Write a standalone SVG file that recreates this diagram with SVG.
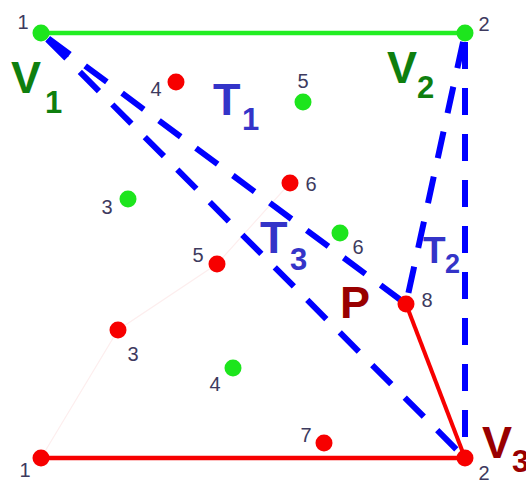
<svg xmlns="http://www.w3.org/2000/svg" width="526" height="481" viewBox="0 0 526 481">
<style>
.num{font-family:"Liberation Sans",Arial,sans-serif;font-size:20px;fill:#3d3a5e;text-anchor:middle}
.big{font-family:"Liberation Sans",Arial,sans-serif;font-weight:bold}
.g{fill:#1de51d}
.r{fill:#f70000}
.dash{stroke:#0000ff;stroke-width:6;fill:none;stroke-dasharray:27 19;stroke-dashoffset:37;stroke-linecap:butt}
.vg{fill:#0f7f0f}
.tb{fill:#3434c8}
.pr{fill:#990000}
</style>
<rect width="526" height="481" fill="#ffffff"/>
<g id="connectors">
<polyline points="41,458 118,330 217,264 290,183" fill="none" stroke="#fdeeee" stroke-width="1.2"/>
<line x1="41" y1="33" x2="465" y2="33" stroke="#22ee22" stroke-width="4.5"/>
<line x1="41" y1="458" x2="465" y2="458" stroke="#f70000" stroke-width="4.5"/>
<line x1="406" y1="304" x2="465" y2="458" stroke="#f70000" stroke-width="4"/>
<line class="dash" x1="41" y1="33" x2="465" y2="458"/>
<line class="dash" x1="41" y1="33" x2="406" y2="304"/>
<line class="dash" x1="465" y1="33" x2="406" y2="304"/>
<line class="dash" x1="465" y1="33" x2="465" y2="458"/>
</g>
<g id="g1"><circle class="g" cx="41" cy="33" r="8.5"/><text class="num" x="23" y="29">1</text></g>
<g id="g2"><circle class="g" cx="465" cy="33" r="8.5"/><text class="num" x="484" y="31">2</text></g>
<g id="g3"><circle class="g" cx="128" cy="199" r="8.5"/><text class="num" x="107" y="214">3</text></g>
<g id="g4"><circle class="g" cx="233" cy="368" r="8.5"/><text class="num" x="215" y="391">4</text></g>
<g id="g5"><circle class="g" cx="303" cy="102" r="8.5"/><text class="num" x="303" y="88">5</text></g>
<g id="g6"><circle class="g" cx="340" cy="233" r="8.5"/><text class="num" x="358" y="254">6</text></g>
<g id="r1"><circle class="r" cx="41" cy="458" r="8.5"/><text class="num" x="25" y="477">1</text></g>
<g id="r2"><circle class="r" cx="465" cy="458" r="8.5"/><text class="num" x="484" y="480">2</text></g>
<g id="r3"><circle class="r" cx="118" cy="330" r="8.5"/><text class="num" x="133" y="361">3</text></g>
<g id="r4"><circle class="r" cx="176" cy="82" r="8.5"/><text class="num" x="156" y="96">4</text></g>
<g id="r5"><circle class="r" cx="217" cy="264" r="8.5"/><text class="num" x="198" y="262">5</text></g>
<g id="r6"><circle class="r" cx="290" cy="183" r="8.5"/><text class="num" x="311" y="191">6</text></g>
<g id="r7"><circle class="r" cx="324" cy="443" r="8.5"/><text class="num" x="306" y="442">7</text></g>
<g id="r8"><circle class="r" cx="406" cy="304" r="8.5"/><text class="num" x="427" y="307">8</text></g>
<g id="labels">
<text class="big vg" x="11" y="93" font-size="45">V</text><text class="big vg" x="45" y="113" font-size="31">1</text>
<text class="big vg" x="387" y="83" font-size="45">V</text><text class="big vg" x="417" y="98" font-size="31">2</text>
<text class="big tb" x="213" y="115" font-size="45">T</text><text class="big tb" x="242" y="130" font-size="31">1</text>
<text class="big tb" x="260" y="253" font-size="45">T</text><text class="big tb" x="290" y="270" font-size="31">3</text>
<text class="big tb" x="423" y="263" font-size="37">T</text><text class="big tb" x="445" y="273" font-size="27">2</text>
<text class="big pr" x="340" y="318" font-size="45">P</text>
<text class="big pr" x="482" y="458" font-size="45">V</text><text class="big pr" x="512" y="472" font-size="31">3</text>
</g>
</svg>
